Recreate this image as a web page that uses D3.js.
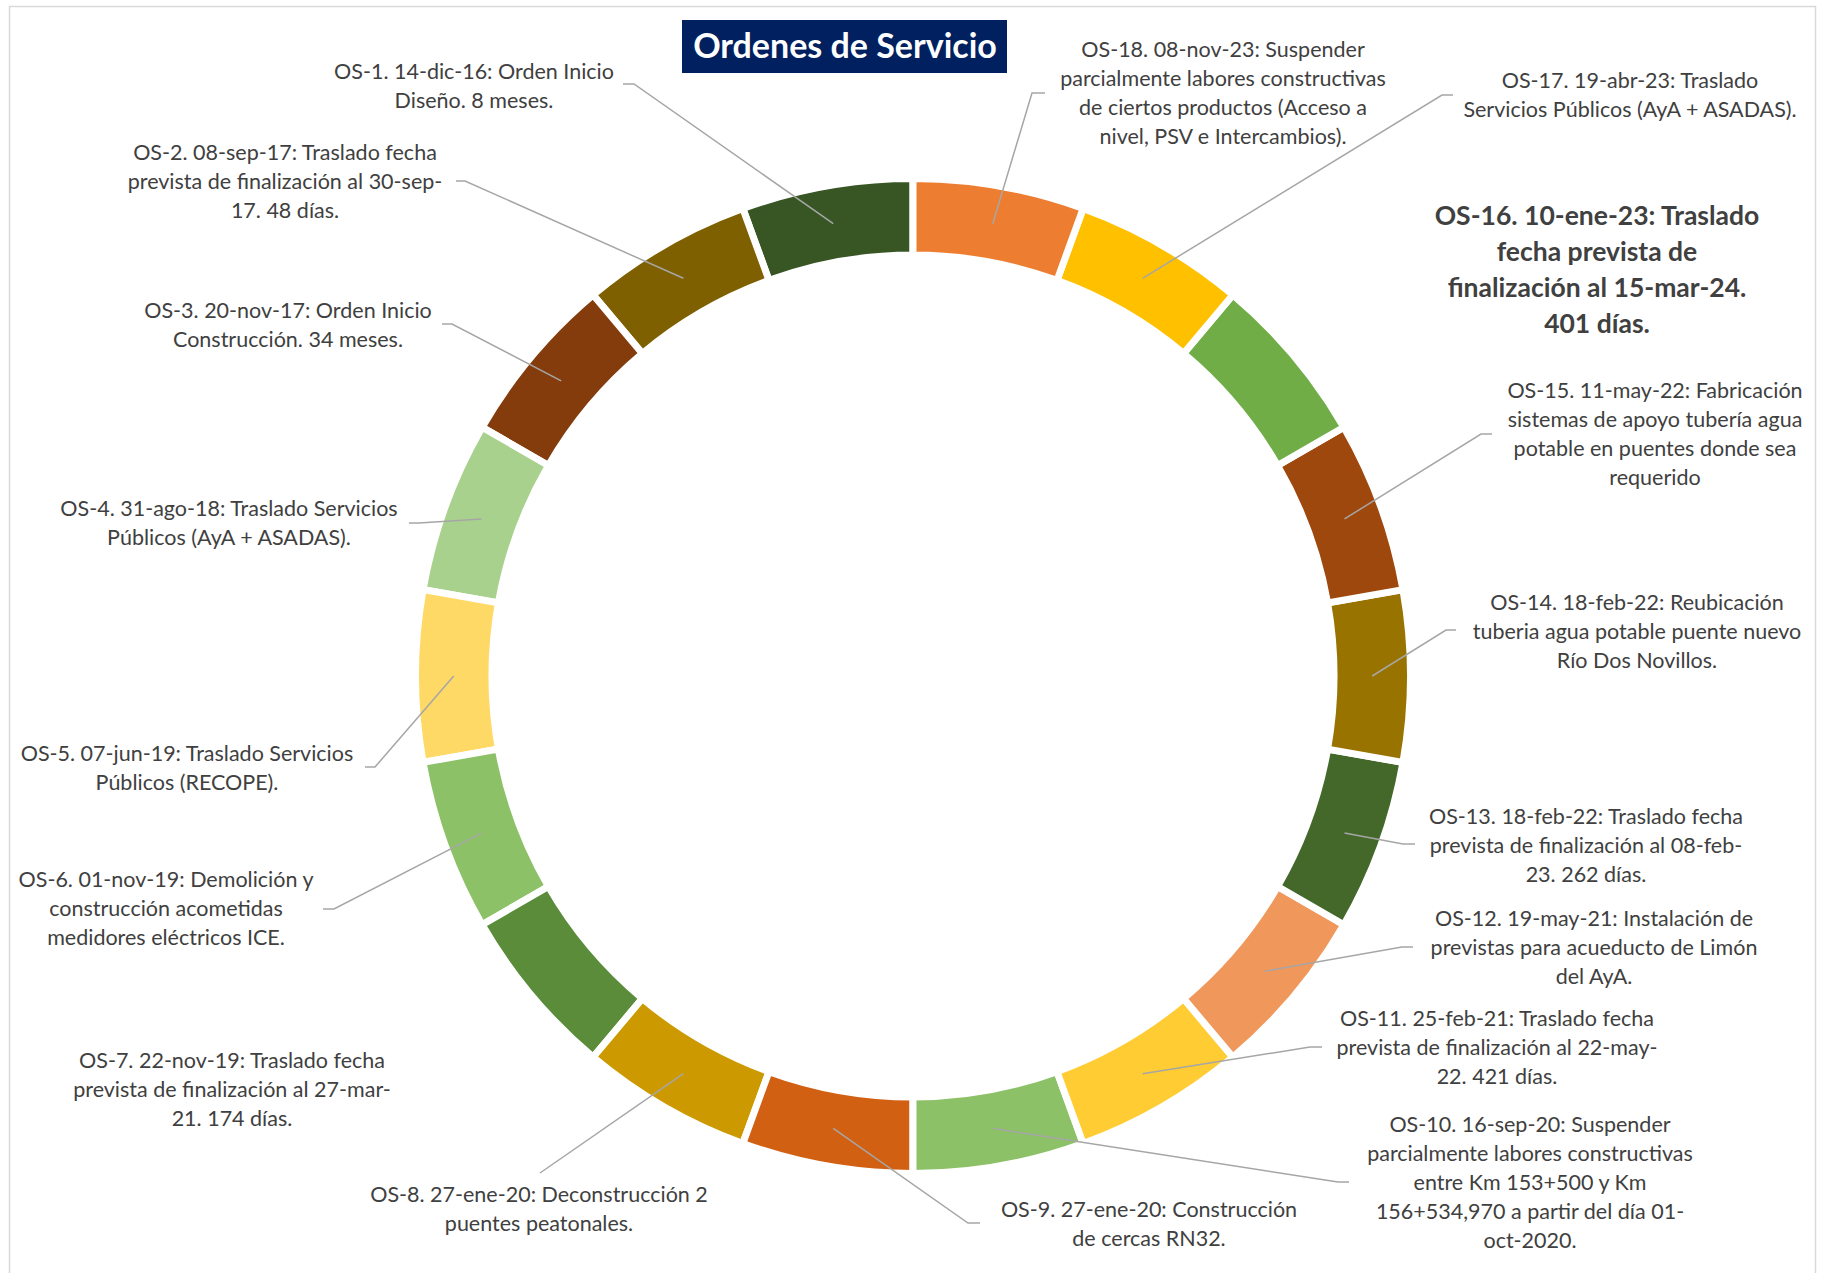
<!DOCTYPE html>
<html>
<head>
<meta charset="utf-8">
<title>Ordenes de Servicio</title>
<script src="https://cdn.jsdelivr.net/npm/d3@7"></script>
<style>
  html, body { margin: 0; padding: 0; background: #fff; }
  svg { display: block; }
  .lbl { font-family: Lato, "Noto Sans", sans-serif; fill: #404040; }
</style>
</head>
<body>
<script>
// ---------------------
// Data
// ---------------------

var ordenes = ["OS-1","OS-2","OS-3","OS-4","OS-5","OS-6","OS-7","OS-8","OS-9",
               "OS-10","OS-11","OS-12","OS-13","OS-14","OS-15","OS-16","OS-17","OS-18"];

// every order gets the same slice of the ring
var valores = [1,1,1,1,1,1,1,1,1,1,1,1,1,1,1,1,1,1];

var colores = ["#375623","#7F6000","#843C0C","#A9D18E","#FFD966","#8CC168",
               "#5B8C3A","#CC9A00","#D26013","#8CC168","#FFCC33","#F0975B",
               "#436829","#997300","#9E480E","#70AD47","#FFC000","#ED7D31"];

var etiquetas = [
  ["OS-1. 14-dic-16: Orden Inicio", "Diseño. 8 meses."],
  ["OS-2. 08-sep-17: Traslado fecha", "prevista de finalización al 30-sep-", "17. 48 días."],
  ["OS-3. 20-nov-17: Orden Inicio", "Construcción. 34 meses."],
  ["OS-4. 31-ago-18: Traslado Servicios", "Públicos (AyA + ASADAS)."],
  ["OS-5. 07-jun-19: Traslado Servicios", "Públicos (RECOPE)."],
  ["OS-6. 01-nov-19: Demolición y", "construcción acometidas", "medidores eléctricos ICE."],
  ["OS-7. 22-nov-19: Traslado fecha", "prevista de finalización al 27-mar-", "21. 174 días."],
  ["OS-8. 27-ene-20: Deconstrucción 2", "puentes peatonales."],
  ["OS-9. 27-ene-20: Construcción", "de cercas RN32."],
  ["OS-10. 16-sep-20: Suspender", "parcialmente labores constructivas", "entre Km 153+500 y Km", "156+534,970 a partir del día 01-", "oct-2020."],
  ["OS-11. 25-feb-21: Traslado fecha", "prevista de finalización al 22-may-", "22. 421 días."],
  ["OS-12. 19-may-21: Instalación de", "previstas para acueducto de Limón", "del AyA."],
  ["OS-13. 18-feb-22: Traslado fecha", "prevista de finalización al 08-feb-", "23. 262 días."],
  ["OS-14. 18-feb-22: Reubicación", "tuberia agua potable puente nuevo", "Río Dos Novillos."],
  ["OS-15. 11-may-22: Fabricación", "sistemas de apoyo tubería agua", "potable en puentes donde sea", "requerido"],
  ["OS-16. 10-ene-23: Traslado", "fecha prevista de", "finalización al 15-mar-24.", "401 días."],
  ["OS-17. 19-abr-23: Traslado", "Servicios Públicos (AyA + ASADAS)."],
  ["OS-18. 08-nov-23: Suspender", "parcialmente labores constructivas", "de ciertos productos (Acceso a", "nivel, PSV e Intercambios)."]
];

var destacado = "OS-16";

// ---------------------
// Label placement (x center, first baseline, leader elbow)
// ---------------------
var posiciones = [
  {x: 474,  y: 79,   guia: [[623,84],[634,84]]},
  {x: 285,  y: 160,  guia: [[456,181],[465,181]]},
  {x: 288,  y: 318,  guia: [[442,324],[452,324]]},
  {x: 229,  y: 516,  guia: [[409,523],[419,523]]},
  {x: 187,  y: 761,  guia: [[365,767],[375,767]]},
  {x: 166,  y: 887,  guia: [[323,909],[334,909]]},
  {x: 232,  y: 1068, guia: null},
  {x: 539,  y: 1202, guia: [[540,1173]]},
  {x: 1149, y: 1217, guia: [[980,1223],[968,1223]]},
  {x: 1530, y: 1132, guia: [[1349,1182],[1338,1182]]},
  {x: 1497, y: 1026, guia: [[1322,1047],[1310,1047]]},
  {x: 1594, y: 926,  guia: [[1413,947],[1402,947]]},
  {x: 1586, y: 824,  guia: [[1415,844],[1403,844]]},
  {x: 1637, y: 610,  guia: [[1456,630],[1446,630]]},
  {x: 1655, y: 398,  guia: [[1492,434],[1481,434]]},
  {x: 1597, y: 225,  guia: null},
  {x: 1630, y: 88,   guia: [[1453,95],[1442,95]]},
  {x: 1223, y: 57,   guia: [[1045,93],[1032,93]]}
];

var w = 1824, h = 1273;
var cx = 913, cy = 676;

var svg = d3.select("body").append("svg")
    .attr("width", w)
    .attr("height", h);

// chart frame
svg.append("rect")
    .attr("x", 9.5).attr("y", 6.5)
    .attr("width", 1806).attr("height", 1280)
    .attr("fill", "none")
    .attr("stroke", "#D9D9D9")
    .attr("stroke-width", 1.5);

// ---------------------
// Ring
// ---------------------
var slices = valores.map(function(v, i){ return {orden: ordenes[i], valor: v, i: i}; });

// counter clockwise from 12 o'clock, OS-1 first
var pie = d3.pie()
    .sort(null)
    .value(function(d){ return d.valor; })
    .startAngle(0)
    .endAngle(-2 * Math.PI);

var arc = d3.arc()
    .innerRadius(421)
    .outerRadius(497.5);

var g = svg.append("g").attr("transform", "translate(" + cx + "," + cy + ")");

var arcs = pie(slices);

g.selectAll("path.seg")
    .data(arcs)
    .enter()
    .append("path")
    .attr("class", "seg")
    .attr("d", arc)
    .attr("fill", function(d){ return colores[d.data.i]; })
    .attr("stroke", "#fff")
    .attr("stroke-width", 7)
    .attr("stroke-linejoin", "miter");

// ---------------------
// Leader lines
// ---------------------
var line = d3.line();

svg.selectAll("path.guia")
    .data(arcs.filter(function(d){ return posiciones[d.data.i].guia; }))
    .enter()
    .append("path")
    .attr("class", "guia")
    .attr("d", function(d){
      var c = arc.centroid(d);
      var pts = posiciones[d.data.i].guia.slice();
      pts.push([cx + c[0], cy + c[1]]);
      return line(pts);
    })
    .attr("fill", "none")
    .attr("stroke", "#A6A6A6")
    .attr("stroke-width", 1.5);

// ---------------------
// Labels
// ---------------------
var labels = svg.selectAll("text.lbl")
    .data(slices)
    .enter()
    .append("text")
    .attr("class", "lbl")
    .attr("text-anchor", "middle")
    .attr("font-size", function(d){ return d.orden == destacado ? 26.5 : 21.5; })
    .attr("font-weight", function(d){ return d.orden == destacado ? "bold" : "normal"; });

labels.each(function(d){
  var p = posiciones[d.i];
  var paso = d.orden == destacado ? 36 : 29;
  d3.select(this).selectAll("tspan")
    .data(etiquetas[d.i])
    .enter()
    .append("tspan")
    .attr("x", p.x)
    .attr("y", function(t, k){ return p.y + k * paso; })
    .text(function(t){ return t; });
});

// ---------------------
// Title
// ---------------------
svg.append("rect")
    .attr("x", 682).attr("y", 20)
    .attr("width", 325).attr("height", 53)
    .attr("fill", "#002060");

svg.append("text")
    .attr("x", 845).attr("y", 58)
    .attr("text-anchor", "middle")
    .attr("font-family", "Lato, 'Noto Sans', sans-serif")
    .attr("font-weight", "bold")
    .attr("font-size", 34)
    .attr("fill", "#fff")
    .text("Ordenes de Servicio");
</script>
</body>
</html>
